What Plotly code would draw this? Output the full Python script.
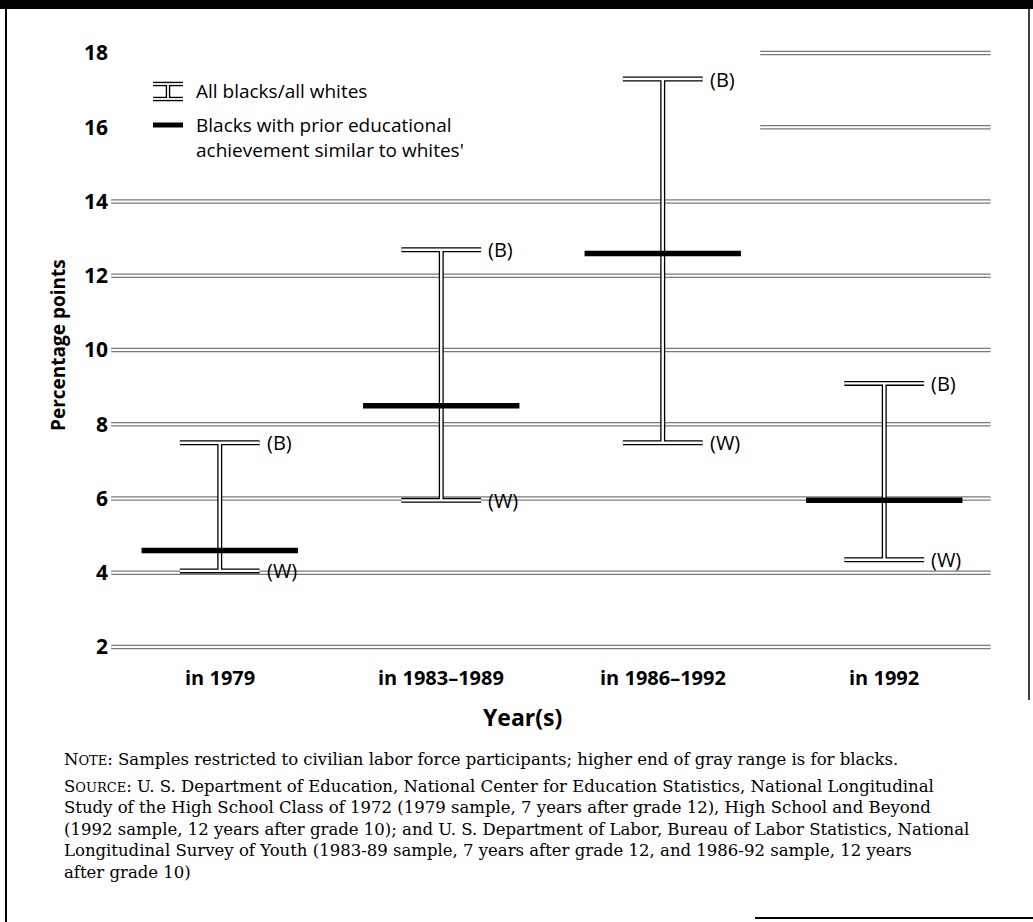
import plotly.graph_objects as go

# ---------------- data ----------------
categories = ["in 1979", "in 1983–1989", "in 1986–1992", "in 1992"]
all_blacks = [7.5, 12.7, 17.3, 9.1]          # upper end (B)
all_whites = [4.05, 5.95, 7.5, 4.35]         # lower end (W)
similar_blacks = [4.6, 8.5, 12.6, 5.95]      # blacks with similar prior achievement
y_ticks = [2, 4, 6, 8, 10, 12, 14, 16, 18]

note_text = ("N<span style='font-size:13px'>OTE</span>: Samples restricted to civilian labor force "
             "participants; higher end of gray range is for blacks.")
source_lines = [
    "S<span style='font-size:13px'>OURCE</span>: U. S. Department of Education, National Center for Education Statistics, National Longitudinal",
    "Study of the High School Class of 1972 (1979 sample, 7 years after grade 12), High School and Beyond",
    "(1992 sample, 12 years after grade 10); and U. S. Department of Labor, Bureau of Labor Statistics, National",
    "Longitudinal Survey of Youth (1983-89 sample, 7 years after grade 12, and 1986-92 sample, 12 years",
    "after grade 10)",
]

# ---------------- layout geometry ----------------
W, H = 1033, 922
L, R, T, B = 109, 38, 30, 252
PW, PH = W - L - R, H - T - B
X_RANGE = [-0.5, 3.5]
Y_RANGE = [1.38, 18.62]
CAP = 0.18
BAR = 0.353
LEGEND_BOX = dict(x0=-0.495, x1=2.44, y0=15.05, y1=18.6)

def px(xp):
    return (xp - L) / PW

def py(yp):
    return (H - B - yp) / PH

SANS = "Open Sans"
SERIF = "DejaVu Serif"

fig = go.Figure()

# hollow gridlines
for v in y_ticks:
    fig.add_trace(go.Scatter(x=[-0.49, 3.48], y=[v, v], mode="lines",
                             line=dict(color="#7a7a7a", width=4.5),
                             hoverinfo="skip", showlegend=False))
    fig.add_trace(go.Scatter(x=[-0.49, 3.48], y=[v, v], mode="lines",
                             line=dict(color="white", width=2),
                             hoverinfo="skip", showlegend=False))

# white legend background (hides gridlines behind the key)
bx = [LEGEND_BOX["x0"], LEGEND_BOX["x1"], LEGEND_BOX["x1"], LEGEND_BOX["x0"], LEGEND_BOX["x0"]]
by = [LEGEND_BOX["y0"], LEGEND_BOX["y0"], LEGEND_BOX["y1"], LEGEND_BOX["y1"], LEGEND_BOX["y0"]]
fig.add_trace(go.Scatter(x=bx, y=by, mode="lines", fill="toself", fillcolor="white",
                         line=dict(width=0, color="white"), hoverinfo="skip", showlegend=False))

# hollow range bars (all blacks / all whites)
for i, (hi, lo) in enumerate(zip(all_blacks, all_whites)):
    xs = [i - CAP, i + CAP, None, i, i, None, i - CAP, i + CAP]
    ys = [hi, hi, None, hi, lo, None, lo, lo]
    fig.add_trace(go.Scatter(x=xs, y=ys, mode="lines",
                             line=dict(color="black", width=5),
                             hoverinfo="skip", showlegend=False))
    fig.add_trace(go.Scatter(x=xs, y=ys, mode="lines",
                             line=dict(color="white", width=2.4),
                             hoverinfo="skip", showlegend=False))

# black bars: blacks with similar prior achievement
for i, v in enumerate(similar_blacks):
    fig.add_trace(go.Scatter(x=[i - BAR, i + BAR], y=[v, v], mode="lines",
                             line=dict(color="black", width=5.5),
                             hoverinfo="skip", showlegend=False))

annotations = []
# (B) / (W) labels
for i, (hi, lo) in enumerate(zip(all_blacks, all_whites)):
    annotations.append(dict(x=i + CAP, y=hi, xref="x", yref="y", text="(B)",
                            showarrow=False, xanchor="left", xshift=5,
                            font=dict(family=SANS, size=20, color="black")))
    annotations.append(dict(x=i + CAP, y=lo, xref="x", yref="y", text="(W)",
                            showarrow=False, xanchor="left", xshift=5,
                            font=dict(family=SANS, size=20, color="black")))

# category labels
for i, c in enumerate(categories):
    annotations.append(dict(x=i, y=py(677), xref="x", yref="paper", text="<b>%s</b>" % c,
                            showarrow=False, xanchor="center", yanchor="middle",
                            font=dict(family=SANS, size=20, color="black")))

# axis titles
annotations.append(dict(x=px(58), y=py(345), xref="paper", yref="paper",
                        text="<b>Percentage points</b>", textangle=-90,
                        showarrow=False, xanchor="center", yanchor="middle",
                        font=dict(family=SANS, size=19, color="black")))
annotations.append(dict(x=px(522), y=py(717), xref="paper", yref="paper",
                        text="<b>Year(s)</b>", showarrow=False,
                        xanchor="center", yanchor="middle",
                        font=dict(family=SANS, size=23, color="black")))

# legend text
annotations.append(dict(x=px(194), y=py(91), xref="paper", yref="paper",
                        text="All blacks/all whites", showarrow=False,
                        xanchor="left", yanchor="middle",
                        font=dict(family=SANS, size=19, color="black")))
annotations.append(dict(x=px(194), y=py(137), xref="paper", yref="paper",
                        text="Blacks with prior educational<br>achievement similar to whites'",
                        showarrow=False, xanchor="left", yanchor="middle", align="left",
                        font=dict(family=SANS, size=19, color="black")))

# notes
annotations.append(dict(x=px(62), y=py(759), xref="paper", yref="paper",
                        text=note_text, showarrow=False,
                        xanchor="left", yanchor="middle",
                        font=dict(family=SERIF, size=16.5, color="black")))
annotations.append(dict(x=px(62), y=py(829), xref="paper", yref="paper",
                        text="<br>".join(source_lines), showarrow=False,
                        xanchor="left", yanchor="middle", align="left",
                        font=dict(family=SERIF, size=16.5, color="black")))

shapes = []
# legend icons
icon = [((153, 84), (183, 84)), ((153, 99), (183, 99)), ((168, 84), (168, 99))]
for color, wdt in (("black", 4.5), ("white", 1.8)):
    for (x0, y0), (x1, y1) in icon:
        shapes.append(dict(type="line", xref="paper", yref="paper",
                           x0=px(x0), y0=py(y0), x1=px(x1), y1=py(y1),
                           line=dict(color=color, width=wdt)))
shapes.append(dict(type="line", xref="paper", yref="paper",
                   x0=px(153), y0=py(125), x1=px(183), y1=py(125),
                   line=dict(color="black", width=5)))

# frame decorations
shapes.append(dict(type="rect", xref="paper", yref="paper",
                   x0=px(0), x1=px(W), y0=py(0), y1=py(9),
                   fillcolor="black", line=dict(width=0)))
shapes.append(dict(type="line", xref="paper", yref="paper",
                   x0=px(6), x1=px(6), y0=py(8), y1=py(H),
                   line=dict(color="black", width=2)))
shapes.append(dict(type="line", xref="paper", yref="paper",
                   x0=px(1029), x1=px(1029), y0=py(8), y1=py(700),
                   line=dict(color="black", width=1.5)))
shapes.append(dict(type="line", xref="paper", yref="paper",
                   x0=px(755), x1=px(W), y0=py(918), y1=py(918),
                   line=dict(color="black", width=2)))

fig.update_layout(
    width=W, height=H,
    margin=dict(l=L, r=R, t=T, b=B),
    paper_bgcolor="white", plot_bgcolor="white",
    showlegend=False,
    annotations=annotations,
    shapes=shapes,
    xaxis=dict(range=X_RANGE, showticklabels=False,
               showgrid=False, zeroline=False, showline=False, ticks="", fixedrange=True),
    yaxis=dict(range=Y_RANGE, tickmode="array", tickvals=y_ticks,
               ticktext=["<b>%d</b>" % v for v in y_ticks],
               showgrid=False, zeroline=False, showline=False, ticks="",
               tickfont=dict(family=SANS, size=21, color="black"), fixedrange=True),
)

fig.write_html("out.html", config={"displayModeBar": False},
               post_script="document.body.style.margin='0px';document.body.style.overflow='hidden';")
